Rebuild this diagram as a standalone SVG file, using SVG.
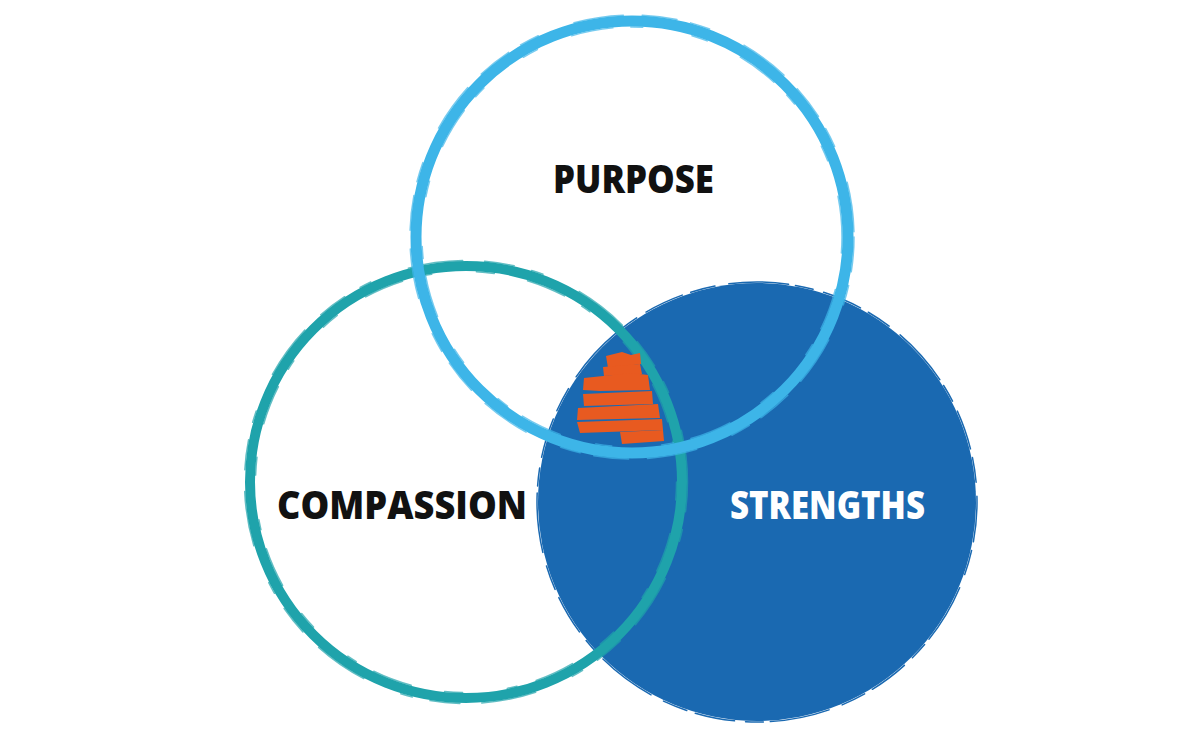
<svg xmlns="http://www.w3.org/2000/svg" width="1204" height="734" viewBox="0 0 1204 734">
  <style>
    .lbl { font-family: "Open Sans", "Liberation Sans", sans-serif; font-weight: 800; font-size: 38px; }
    .dark { fill: #111111; }
    .light { fill: #ffffff; }
    .ring { fill: none; }
    .purpose { stroke: #3db5e8; }
    .compassion { stroke: #1fa3ab; }
    .strengths { stroke: #1a69b1; }
    .scratch { fill: none; stroke-width: 1.5; stroke-linecap: round; }
  </style>
  <rect width="1204" height="734" fill="#ffffff"/>

  <g id="strengths">
    <circle cx="757" cy="502" r="219" fill="#1a69b1"/>
    <circle class="scratch strengths" cx="757" cy="502" r="220" stroke-width="3" stroke-dasharray="40 9 25 14 60 7 18 11"/>
    <text class="lbl light" x="730" y="519" textLength="195" lengthAdjust="spacingAndGlyphs">STRENGTHS</text>
  </g>

  <g id="compassion">
    <circle class="ring compassion" cx="466" cy="482" r="216" stroke-width="10"/>
    <circle class="scratch compassion" cx="466" cy="482" r="221.5" stroke-dasharray="30 18 12 40 55 22" opacity="0.7"/>
    <circle class="scratch compassion" cx="466" cy="482" r="210.5" stroke-dasharray="18 34 40 20 10 45" opacity="0.7"/>
    <text class="lbl dark" x="277" y="519" textLength="250" lengthAdjust="spacingAndGlyphs">COMPASSION</text>
  </g>

  <g id="purpose">
    <circle class="ring purpose" cx="632" cy="237" r="216" stroke-width="11"/>
    <circle class="scratch purpose" cx="632" cy="237" r="222" stroke-dasharray="35 14 20 38 50 19" opacity="0.7"/>
    <circle class="scratch purpose" cx="632" cy="237" r="210" stroke-dasharray="16 37 42 18 12 50" opacity="0.7"/>
    <text class="lbl dark" x="553" y="193" textLength="161" lengthAdjust="spacingAndGlyphs">PURPOSE</text>
  </g>

  <g id="center-mark" fill="#e85a20">
    <polygon points="606,356 622,352 631,355 640,353 641,364 626,366 608,368"/>
    <polygon points="603,367 640,364 642,374 604,376"/>
    <polygon points="584,378 632,373 648,375 650,390 600,391 583,390"/>
    <polygon points="583,394 652,391 653,404 584,406"/>
    <polygon points="578,408 658,404 660,418 577,420"/>
    <polygon points="577,422 662,419 663,430 580,433"/>
    <polygon points="620,432 663,430 664,441 622,444"/>
  </g>
</svg>
